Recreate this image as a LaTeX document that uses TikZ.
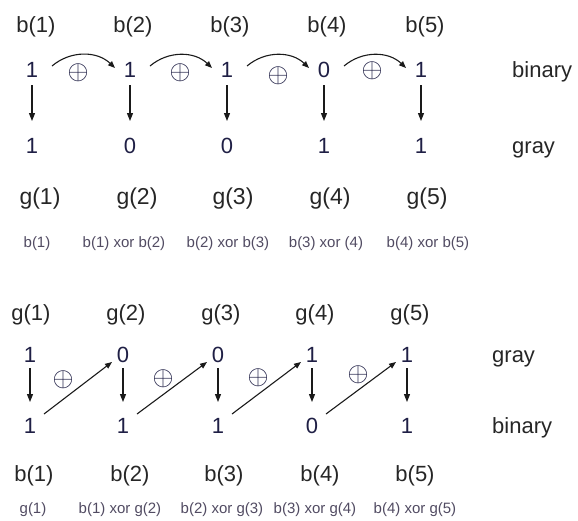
\documentclass[tikz,border=0pt]{standalone}
\usepackage{graphicx}
\usepackage{fontspec}
\setmainfont{Liberation Sans}
\usetikzlibrary{arrows.meta}
\definecolor{lblc}{HTML}{262626}
\definecolor{digc}{HTML}{1F1F45}
\definecolor{smallc}{HTML}{514B62}
\definecolor{arrc}{HTML}{1A1A1A}
\newcommand{\xorglyph}{\scalebox{2.7}{$\oplus$}}
\begin{document}
\begin{tikzpicture}[x=1pt,y=1pt,
  lbl/.style={anchor=base,inner sep=0pt,text=lblc,font=\fontsize{22}{26}\selectfont},
  glbl/.style={anchor=base,inner sep=0pt,text=lblc,font=\fontsize{23}{27}\selectfont},
  dig/.style={anchor=base,inner sep=0pt,text=digc,font=\fontsize{22}{26}\selectfont},
  word/.style={anchor=base west,inner sep=0pt,text=lblc,font=\fontsize{22}{26}\selectfont},
  small/.style={anchor=base,inner sep=0pt,text=smallc,font=\fontsize{15}{18}\selectfont},
  xorsym/.style={inner sep=0pt,text=digc,font=\fontsize{10}{12}\selectfont},
  darr/.style={draw=arrc,line width=1.2pt,-{Triangle[length=8pt,width=6pt]}},
  carr/.style={draw=arrc,line width=1.1pt,-{Triangle[length=7pt,width=5.5pt]}},
]
\useasboundingbox (0,0) rectangle (578,-520);

% ---------- top part: binary -> gray ----------
\foreach \i/\x in {1/36,2/133,3/230,4/327,5/425}
  \node[lbl] (tb\i) at (\x,-32) {b(\i)};
\foreach \i/\x/\v in {1/32/1,2/130/1,3/227/1,4/324/0,5/421/1}
  \node[dig] (tx\i) at (\x,-77) {\v};
\foreach \i/\x/\v in {1/32/1,2/130/0,3/227/0,4/324/1,5/421/1}
  \node[dig] (ty\i) at (\x,-153) {\v};
\node[word] (lbin) at (512,-77) {binary};
\node[word] (lgray) at (512,-153) {gray};

\foreach \i in {1,...,5}
  \draw[darr] ([yshift=-8pt]tx\i.base) -- ([yshift=32pt]ty\i.base);

\foreach \i/\j in {1/2,2/3,3/4,4/5}
  \draw[carr] ([shift={(20pt,11pt)}]tx\i.base) to[bend left=42] ([shift={(-15pt,9pt)}]tx\j.base);

\node[xorsym] (xo1) at (78,-73) {\xorglyph};
\node[xorsym] (xo2) at (180,-73) {\xorglyph};
\node[xorsym] (xo3) at (278,-76) {\xorglyph};
\node[xorsym] (xo4) at (372,-71) {\xorglyph};

\foreach \i/\x in {1/40,2/137,3/233,4/330,5/427}
  \node[glbl] (tg\i) at (\x,-204) {g(\i)};

\node[small] (te1) at (37,-247) {b(1)};
\node[small] (te2) at (124,-247) {b(1) xor b(2)};
\node[small] (te3) at (228,-247) {b(2) xor b(3)};
\node[small] (te4) at (326,-247) {b(3) xor (4)};
\node[small] (te5) at (428,-247) {b(4) xor b(5)};

% ---------- bottom part: gray -> binary ----------
\foreach \i/\x in {1/31,2/126,3/221,4/315,5/410}
  \node[lbl] (bg\i) at (\x,-320) {g(\i)};
\foreach \i/\x/\v in {1/30/1,2/123/0,3/218/0,4/312/1,5/407/1}
  \node[dig] (bu\i) at (\x,-362) {\v};
\foreach \i/\x/\v in {1/30/1,2/123/1,3/218/1,4/312/0,5/407/1}
  \node[dig] (bd\i) at (\x,-433) {\v};
\node[word] (lgray2) at (492,-362) {gray};
\node[word] (lbin2) at (492,-433) {binary};

\foreach \i in {1,...,5}
  \draw[darr] ([yshift=-6pt]bu\i.base) -- ([yshift=31pt]bd\i.base);

\foreach \i/\j in {1/2,2/3,3/4,4/5}
  \draw[carr] ([shift={(14pt,19pt)}]bd\i.base) -- ([shift={(-11pt,0pt)}]bu\j.base);

\node[xorsym] (bo1) at (63,-380) {\xorglyph};
\node[xorsym] (bo2) at (163,-379) {\xorglyph};
\node[xorsym] (bo3) at (258,-378) {\xorglyph};
\node[xorsym] (bo4) at (358,-375) {\xorglyph};

\foreach \i/\x in {1/34,2/130,3/224,4/320,5/415}
  \node[lbl] (bb\i) at (\x,-481) {b(\i)};

\node[small] (bf1) at (33,-513) {g(1)};
\node[small] (bf2) at (120,-513) {b(1) xor g(2)};
\node[small] (bf3) at (222,-513) {b(2) xor g(3)};
\node[small] (bf4) at (315,-513) {b(3) xor g(4)};
\node[small] (bf5) at (415,-513) {b(4) xor g(5)};
\end{tikzpicture}
\end{document}
